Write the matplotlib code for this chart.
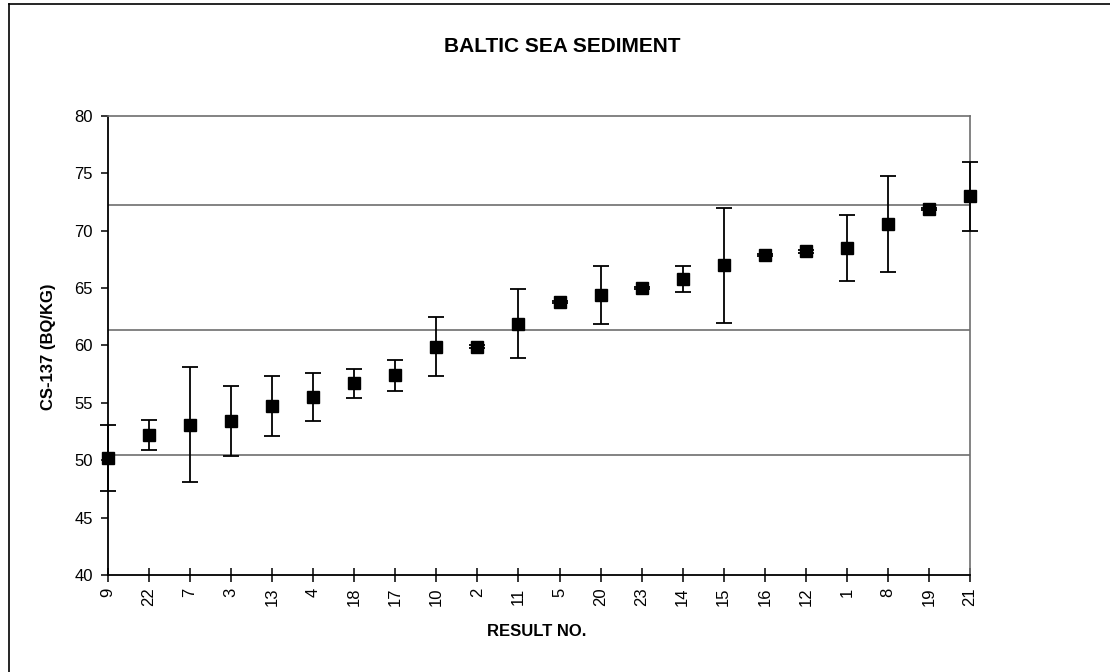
import matplotlib
matplotlib.use("Agg")
import matplotlib.pyplot as plt
from matplotlib.lines import Line2D

plt.rcParams["font.family"] = ["Liberation Sans", "DejaVu Sans"]

# Laboratory result numbers, ordered by reported activity
result_no = ["9", "22", "7", "3", "13", "4", "18", "17", "10", "2", "11",
             "5", "20", "23", "14", "15", "16", "12", "1", "8", "19", "21"]
# Reported Cs-137 activity (Bq/kg)
activity = [50.2, 52.2, 53.1, 53.4, 54.7, 55.5, 56.7, 57.4, 59.9, 59.9, 61.9,
            63.8, 64.4, 65.0, 65.8, 67.0, 67.9, 68.2, 68.5, 70.6, 71.9, 73.0]
# Reported uncertainty (Bq/kg)
uncertainty = [2.85, 1.3, 5.0, 3.05, 2.6, 2.1, 1.25, 1.35, 2.55, 0.1, 3.0,
               0.1, 2.55, 0.1, 1.1, 5.0, 0.1, 0.1, 2.9, 4.2, 0.1, 3.0]
# Reference levels: lower limit, mean, upper limit
ref_levels = [50.45, 61.35, 72.25]

W, H = 1110, 672
fig = plt.figure(figsize=(W / 100, H / 100), dpi=100)
ax = fig.add_axes([108 / W, 1 - 575 / H, (970 - 108) / W, (575 - 116) / H])

x = list(range(len(result_no)))

for lvl in ref_levels:
    ax.axhline(lvl, color="#6e6e6e", lw=1.2, zorder=1)

ax.errorbar(x, activity, yerr=uncertainty, fmt="s", color="black",
            ecolor="black", markersize=8.5, elinewidth=1.3, capsize=5.5,
            capthick=1.3, clip_on=False, zorder=3)

ax.set_xlim(0, len(result_no) - 1)
ax.set_ylim(40, 80)
ax.set_yticks(range(40, 81, 5))
ax.set_xticks(x)
ax.set_xticklabels(result_no, rotation=90)

for side in ("left", "bottom"):
    ax.spines[side].set_color("black")
    ax.spines[side].set_linewidth(1.3)
for side in ("top", "right"):
    ax.spines[side].set_color("#6e6e6e")
    ax.spines[side].set_linewidth(1.2)

ax.tick_params(axis="y", direction="out", length=5, width=1.1, pad=6,
               labelsize=12)
ax.tick_params(axis="x", direction="inout", length=10, width=1.1, pad=4,
               labelsize=12)

fig.text(562 / W, 1 - 46 / H, "BALTIC SEA SEDIMENT", ha="center",
         va="center", fontsize=15, fontweight="bold")
fig.text(48 / W, 1 - 347 / H, "CS-137 (BQ/KG)", ha="center", va="center",
         rotation=90, fontsize=12, fontweight="bold")
fig.text(537 / W, 1 - 631 / H, "RESULT NO.", ha="center", va="center",
         fontsize=12, fontweight="bold")

# Frame around the chart area
fig.add_artist(Line2D([8.5 / W, 8.5 / W], [0, 1 - 3.5 / H],
                      transform=fig.transFigure, color="black", lw=1.2))
fig.add_artist(Line2D([8.5 / W, 1], [1 - 3.5 / H, 1 - 3.5 / H],
                      transform=fig.transFigure, color="black", lw=1.2))

fig.savefig("out.png", dpi=100)
